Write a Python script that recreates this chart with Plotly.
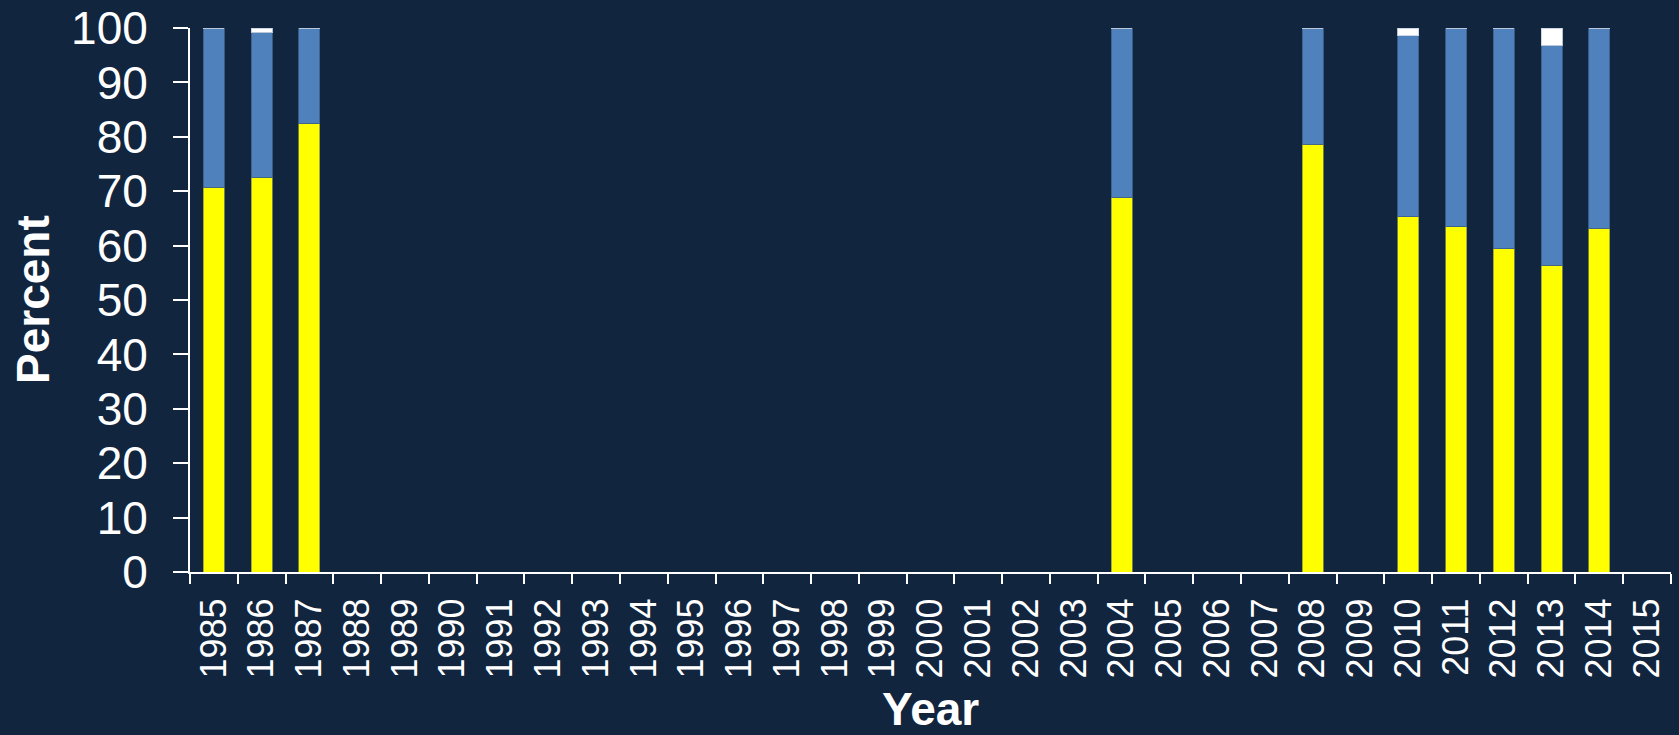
import plotly.graph_objects as go

years = [str(y) for y in range(1985, 2016)]
yellow_vals = {"1985": 70.7, "1986": 72.6, "1987": 82.4, "2004": 68.9, "2008": 78.6,
               "2010": 65.3, "2011": 63.5, "2012": 59.4, "2013": 56.4, "2014": 63.2}
blue_vals = {"1985": 29.3, "1986": 26.6, "1987": 17.6, "2004": 31.1, "2008": 21.4,
             "2010": 33.3, "2011": 36.5, "2012": 40.6, "2013": 40.4, "2014": 36.8}
white_vals = {"1985": 0, "1986": 0.8, "1987": 0, "2004": 0, "2008": 0,
              "2010": 1.4, "2011": 0, "2012": 0, "2013": 3.2, "2014": 0}

yellow = [yellow_vals.get(y) for y in years]
blue = [blue_vals.get(y) for y in years]
white = [white_vals.get(y) for y in years]

bg = "#11253f"
font_family = "Liberation Sans, Arial, sans-serif"

fig = go.Figure()
for vals, col, edge in [(yellow, "#ffff00", "rgba(140,150,60,0.8)"),
                        (blue, "#4f81bd", "rgba(60,95,140,0.9)"),
                        (white, "#ffffff", "rgba(200,210,225,0.9)")]:
    fig.add_trace(go.Bar(x=years, y=vals, marker=dict(color=col, line=dict(color=edge, width=1)),
                         width=0.44, showlegend=False))

fig.update_layout(
    barmode="stack",
    width=1679, height=735,
    paper_bgcolor=bg, plot_bgcolor=bg,
    margin=dict(l=190, r=8, t=28, b=163),
    font=dict(family=font_family, color="white"),
    xaxis=dict(
        type="category", categoryorder="array", categoryarray=years,
        tickson="boundaries", ticks="outside", ticklen=10, tickwidth=2, tickcolor="white",
        showline=True, linecolor="white", linewidth=2, showgrid=False, zeroline=False,
        tickangle=-90, tickfont=dict(size=36, color="white"),
        ticklabelstandoff=10, automargin=False,
    ),
    yaxis=dict(
        range=[0, 100], tickvals=list(range(0, 101, 10)),
        ticks="outside", ticklen=15, tickwidth=2, tickcolor="white",
        showline=True, linecolor="white", linewidth=2, showgrid=False, zeroline=False,
        tickfont=dict(size=46, color="white"), ticklabelstandoff=16, automargin=False,
    ),
    annotations=[
        dict(text="<b>Percent</b>", xref="paper", yref="paper", x=-0.106, y=0.5,
             xanchor="center", yanchor="middle", textangle=-90, showarrow=False,
             font=dict(size=46, color="white")),
        dict(text="<b>Year</b>", xref="paper", yref="paper", x=0.5, y=-0.251,
             xanchor="center", yanchor="middle", showarrow=False,
             font=dict(size=46, color="white")),
    ],
)

fig.write_html("out.html", config={"displayModeBar": False},
               post_script="document.body.style.margin='0';document.body.style.padding='0';"
                           "document.body.style.background='#11253f';")
